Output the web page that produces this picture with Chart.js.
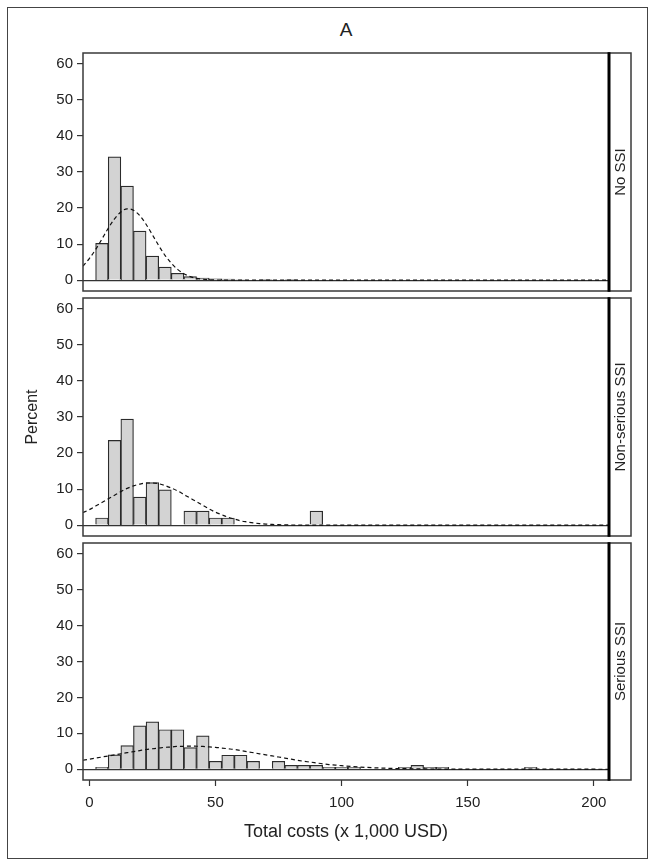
<!DOCTYPE html>
<html>
<head>
<meta charset="utf-8">
<script src="https://cdn.jsdelivr.net/npm/chart.js@4.4.1/dist/chart.umd.min.js"></script>
<style>
  body { margin: 0; background: #fff; }
  #page { position: relative; width: 654px; height: 867px; font-family: "Liberation Sans", Arial, sans-serif; }
  #frame { position: absolute; left: 7px; top: 7px; width: 639px; height: 850px; border: 1px solid #444; }
  #title { position: absolute; left: 83px; width: 526px; top: 19px; text-align: center; font-size: 19px; color: #222; }
  canvas { position: absolute; left: 0; }
</style>
</head>
<body>
<div id="page">
  <div id="frame"></div>
  <div id="title">A</div>
  <canvas id="p1" width="654" height="258" style="top:43px"></canvas>
  <canvas id="p2" width="654" height="258" style="top:288px"></canvas>
  <canvas id="p3" width="654" height="320" style="top:533px"></canvas>
</div>
<script>
// histogram bins (centre of each 5k bin, x 1,000 USD)
const binCenters = [5, 10, 15, 20, 25, 30, 35, 40, 45, 50, 55, 60, 65, 70, 75, 80, 85, 90, 95, 100,
  105, 110, 115, 120, 125, 130, 135, 140, 145, 150, 155, 160, 165, 170, 175];

// percent per bin
const noSSI = [10.2, 34.2, 26.1, 13.6, 6.7, 3.6, 1.9, 1.0, 0.6, 0.4, 0.3, 0.2, 0, 0.1, 0, 0.1, 0, 0, 0, 0,
  0, 0, 0, 0, 0, 0, 0, 0, 0, 0, 0, 0, 0, 0, 0];
const nonSeriousSSI = [2.0, 23.5, 29.4, 7.8, 11.8, 9.8, 0, 3.9, 3.9, 2.0, 2.0, 0, 0, 0, 0, 0, 0, 3.9, 0, 0,
  0, 0, 0, 0, 0, 0, 0, 0, 0, 0, 0, 0, 0, 0, 0];
const seriousSSI = [0.55, 4.0, 6.6, 12.1, 13.2, 11.0, 11.0, 6.0, 9.3, 2.2, 3.9, 3.9, 2.2, 0, 2.2, 1.1, 1.1, 1.1, 0.55, 0.55,
  0.55, 0, 0, 0, 0.55, 1.1, 0.55, 0.55, 0, 0, 0, 0, 0, 0, 0.55];

// dashed normal density curves
const curveX = [-2.5, 0, 2.5, 5, 7.5, 10, 12.5, 15, 17.5, 20, 22.5, 25, 27.5, 30, 32.5, 35, 37.5, 40, 42.5, 45,
  47.5, 50, 52.5, 55, 57.5, 60, 62.5, 65, 67.5, 70, 72.5, 75, 77.5, 80, 82.5, 85, 87.5, 90, 92.5, 95,
  97.5, 100, 110, 120, 130, 140, 160, 206];
const noSSICurve = [3.9, 6.0, 8.5, 11.4, 14.4, 17.0, 18.9, 19.8, 19.4, 17.9, 15.5, 12.6, 9.6, 6.9, 4.7, 3.0, 1.8, 1.0, 0.5, 0.26,
  0.12, 0.05, 0, 0, 0, 0, 0, 0, 0, 0, 0, 0, 0, 0, 0, 0, 0, 0, 0, 0,
  0, 0, 0, 0, 0, 0, 0, 0];
const nonSeriousCurve = [3.5, 4.3, 5.3, 6.3, 7.3, 8.3, 9.3, 10.2, 10.9, 11.4, 11.7, 11.7, 11.5, 11.0, 10.3, 9.5, 8.5, 7.5, 6.5, 5.5,
  4.5, 3.6, 2.9, 2.2, 1.7, 1.2, 0.9, 0.64, 0.44, 0.3, 0.2, 0.13, 0.08, 0.05, 0.03, 0.02, 0.01, 0, 0, 0,
  0, 0, 0, 0, 0, 0, 0, 0];
const seriousCurve = [2.5, 2.8, 3.1, 3.4, 3.7, 4.0, 4.3, 4.6, 4.9, 5.2, 5.5, 5.7, 5.9, 6.1, 6.2, 6.35, 6.4, 6.43, 6.4, 6.35,
  6.2, 6.1, 5.9, 5.7, 5.5, 5.2, 4.9, 4.6, 4.3, 4.0, 3.7, 3.4, 3.1, 2.8, 2.5, 2.2, 2.0, 1.75, 1.5, 1.3,
  1.15, 0.99, 0.5, 0.23, 0.1, 0.04, 0.01, 0];

const yTicks = [0, 10, 20, 30, 40, 50, 60];
const xTicks = [0, 50, 100, 150, 200];
const panelLabels = ['No SSI', 'Non-serious SSI', 'Serious SSI'];

const FONT = '"Liberation Sans", Arial, sans-serif';

// box round each panel plus the label strip on the right
const panelFrame = {
  id: 'panelFrame',
  afterDraw(chart, args, opts) {
    const ctx = chart.ctx;
    const a = chart.chartArea;
    ctx.save();
    ctx.strokeStyle = '#3a3a3a';
    ctx.lineWidth = 1.5;
    ctx.strokeRect(a.left, a.top, a.right - a.left, a.bottom - a.top);
    ctx.strokeRect(a.right, a.top, 22, a.bottom - a.top);
    ctx.strokeStyle = '#000';
    ctx.lineWidth = 3;
    ctx.beginPath();
    ctx.moveTo(a.right, a.top - 0.75);
    ctx.lineTo(a.right, a.bottom + 0.75);
    ctx.stroke();
    ctx.translate(a.right + 11.5, (a.top + a.bottom) / 2);
    ctx.rotate(-Math.PI / 2);
    ctx.fillStyle = '#222';
    ctx.font = '15px ' + FONT;
    ctx.textAlign = 'center';
    ctx.textBaseline = 'middle';
    ctx.fillText(opts.label, 0, 0);
    ctx.restore();
  }
};

function makePanel(id, bars, curve, label, isBottom, showPercent) {
  const el = document.getElementById(id);
  return new Chart(el.getContext('2d'), {
    data: {
      datasets: [
        {
          type: 'line',
          data: curveX.map((x, i) => ({ x: x, y: curve[i] })),
          borderColor: '#111',
          borderWidth: 1.2,
          borderDash: [4, 3],
          pointRadius: 0,
          cubicInterpolationMode: 'monotone',
          fill: false,
          order: 0
        },
        {
          type: 'bar',
          data: binCenters.map((x, i) => ({ x: x, y: bars[i] > 0 ? bars[i] : null })),
          backgroundColor: '#d3d3d3',
          borderColor: '#2b2b2b',
          borderWidth: 1.2,
          barPercentage: 1,
          categoryPercentage: 1,
          order: 1
        }
      ]
    },
    options: {
      responsive: false,
      animation: false,
      devicePixelRatio: 1,
      events: [],
      layout: { padding: { top: 10, bottom: 10, left: 0, right: 45 } },
      plugins: {
        legend: { display: false },
        tooltip: { enabled: false },
        panelFrame: { label: label }
      },
      scales: {
        x: {
          type: 'linear',
          min: -2.5,
          max: 206,
          offset: false,
          display: isBottom,
          afterBuildTicks: s => { s.ticks = xTicks.map(v => ({ value: v })); },
          ticks: { font: { family: FONT, size: 15 }, color: '#222', padding: 8, maxRotation: 0 },
          grid: { drawOnChartArea: false, drawTicks: true, tickLength: 6, tickColor: '#333', tickWidth: 1.2, offset: false },
          border: { display: false },
          title: {
            display: true,
            text: 'Total costs (x 1,000 USD)',
            font: { family: FONT, size: 18 },
            color: '#222',
            padding: { top: 0, bottom: 0 }
          },
          afterFit: s => {
            if (isBottom) s.height = 63;
            s.paddingLeft = 0;
            s.paddingRight = 0;
          }
        },
        y: {
          min: -3,
          max: 63,
          afterBuildTicks: s => { s.ticks = yTicks.map(v => ({ value: v })); },
          ticks: { font: { family: FONT, size: 15 }, color: '#222', padding: 4 },
          grid: {
            color: c => (c.tick && c.tick.value === 0 ? '#333' : 'rgba(0,0,0,0)'),
            lineWidth: 1.2,
            tickColor: '#333',
            tickWidth: 1.2,
            tickLength: 6,
            drawTicks: true
          },
          border: { display: false },
          title: {
            display: showPercent,
            text: 'Percent',
            font: { family: FONT, size: 16 },
            color: '#222',
            padding: { top: 23, bottom: 0 }
          },
          afterFit: s => {
            s.width = 83;
            s.paddingTop = 0;
            s.paddingBottom = 0;
          }
        }
      }
    },
    plugins: [panelFrame]
  });
}

makePanel('p1', noSSI, noSSICurve, panelLabels[0], false, false);
makePanel('p2', nonSeriousSSI, nonSeriousCurve, panelLabels[1], false, true);
makePanel('p3', seriousSSI, seriousCurve, panelLabels[2], true, false);
</script>
</body>
</html>
